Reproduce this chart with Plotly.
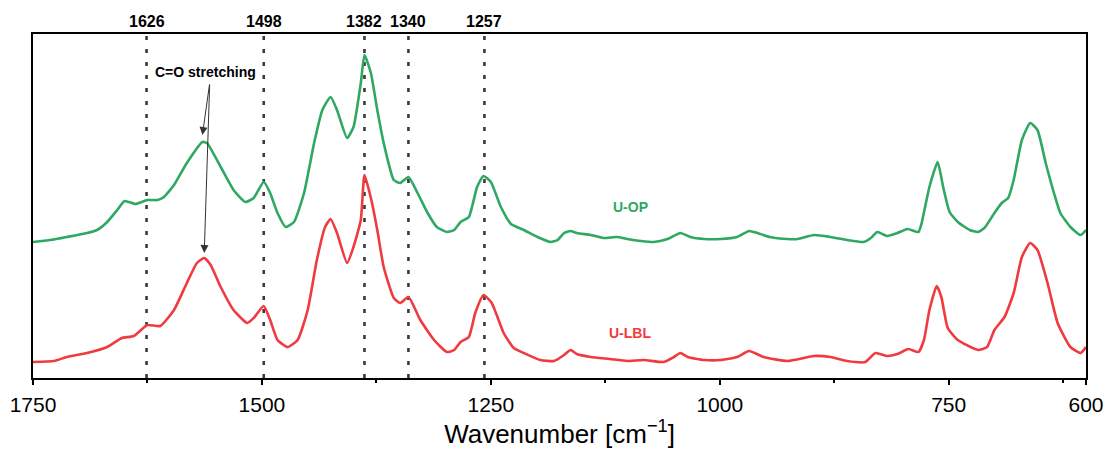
import plotly.graph_objects as go

# ---------------- data ----------------
op_wavenumber = [1750, 1731, 1713, 1691, 1680, 1669, 1658, 1650, 1638, 1625, 1614, 1607, 1596, 1582,
                 1565, 1560, 1545, 1531, 1518, 1509, 1498, 1491, 1483, 1474, 1465, 1454, 1443, 1434,
                 1425, 1418, 1407, 1400, 1392, 1388, 1381, 1374, 1367, 1356, 1349, 1340, 1330, 1319,
                 1309, 1298, 1290, 1283, 1274, 1265, 1258, 1250, 1239, 1228, 1214, 1199, 1185, 1177,
                 1170, 1163, 1156, 1141, 1127, 1112, 1101, 1086, 1072, 1057, 1043, 1032, 1017, 999,
                 981, 968, 959, 945, 926, 915, 897, 879, 861, 843, 835, 828, 817, 806, 795, 783, 780,
                 771, 762, 756, 749, 740, 727, 718, 711, 700, 692, 685, 679, 670, 661, 653, 644, 635,
                 628, 617, 606, 600]
op_absorbance = [1.36, 1.38, 1.41, 1.45, 1.48, 1.56, 1.68, 1.77, 1.74, 1.78, 1.78, 1.81, 1.93, 2.15,
                 2.36, 2.35, 2.11, 1.88, 1.76, 1.80, 1.96, 1.85, 1.65, 1.51, 1.56, 1.85, 2.35, 2.68,
                 2.81, 2.68, 2.40, 2.51, 2.95, 3.23, 3.05, 2.68, 2.35, 1.98, 1.95, 2.01, 1.85, 1.65,
                 1.51, 1.46, 1.48, 1.56, 1.61, 1.91, 2.02, 1.96, 1.71, 1.54, 1.48, 1.41, 1.36, 1.38,
                 1.45, 1.47, 1.45, 1.43, 1.40, 1.41, 1.39, 1.37, 1.36, 1.39, 1.45, 1.41, 1.39, 1.39,
                 1.41, 1.47, 1.45, 1.41, 1.39, 1.39, 1.43, 1.41, 1.38, 1.36, 1.40, 1.46, 1.42, 1.45,
                 1.49, 1.46, 1.53, 1.91, 2.16, 1.91, 1.66, 1.56, 1.48, 1.46, 1.50, 1.65, 1.75, 1.80,
                 1.98, 2.38, 2.55, 2.48, 2.15, 1.85, 1.65, 1.51, 1.43, 1.48]

lbl_wavenumber = [1750, 1727, 1713, 1691, 1669, 1653, 1640, 1625, 1611, 1596, 1582, 1571, 1563, 1556,
                  1545, 1531, 1516, 1509, 1498, 1491, 1483, 1472, 1461, 1450, 1440, 1431, 1425, 1418,
                  1407, 1400, 1392, 1388, 1381, 1374, 1367, 1356, 1349, 1340, 1327, 1312, 1298, 1290,
                  1283, 1274, 1267, 1258, 1249, 1236, 1225, 1214, 1196, 1181, 1170, 1163, 1156, 1141,
                  1120, 1101, 1083, 1061, 1050, 1043, 1035, 1017, 999, 981, 968, 952, 926, 897, 879,
                  861, 841, 830, 817, 806, 794, 783, 777, 771, 763, 758, 751, 740, 718, 708, 700, 689,
                  679, 670, 661, 653, 642, 631, 617, 606, 600]
lbl_absorbance = [0.16, 0.17, 0.21, 0.25, 0.31, 0.40, 0.42, 0.53, 0.52, 0.68, 0.95, 1.15, 1.20, 1.13,
                  0.91, 0.68, 0.55, 0.60, 0.72, 0.58, 0.38, 0.31, 0.38, 0.68, 1.18, 1.51, 1.59, 1.45,
                  1.15, 1.31, 1.58, 2.03, 1.80, 1.48, 1.11, 0.80, 0.75, 0.81, 0.58, 0.38, 0.26, 0.28,
                  0.36, 0.41, 0.65, 0.83, 0.75, 0.45, 0.30, 0.25, 0.18, 0.17, 0.23, 0.28, 0.24, 0.21,
                  0.19, 0.17, 0.18, 0.16, 0.21, 0.25, 0.21, 0.18, 0.18, 0.21, 0.27, 0.21, 0.17, 0.22,
                  0.21, 0.17, 0.16, 0.25, 0.22, 0.24, 0.29, 0.26, 0.38, 0.68, 0.92, 0.81, 0.50, 0.38,
                  0.28, 0.31, 0.48, 0.61, 0.85, 1.21, 1.35, 1.28, 0.95, 0.55, 0.31, 0.25, 0.31]

peak_labels = ["1626", "1498", "1382", "1340", "1257"]
peak_positions = [1626, 1498, 1388, 1340, 1257]

x_tick_values = [1750, 1500, 1250, 1000, 750, 600]
x_tick_labels = ["1750", "1500", "1250", "1000", "750", "600"]
x_minor_ticks = [1625, 1375, 1125, 875, 625]

GREEN = "#2EA862"
RED = "#F03A3E"
FONT = "Liberation Sans, Arial, sans-serif"

fig = go.Figure()
fig.add_trace(go.Scatter(x=op_wavenumber, y=op_absorbance, mode="lines", name="U-OP",
                         line=dict(color=GREEN, width=2.6, shape="spline", smoothing=0.5)))
fig.add_trace(go.Scatter(x=lbl_wavenumber, y=lbl_absorbance, mode="lines", name="U-LBL",
                         line=dict(color=RED, width=2.6, shape="spline", smoothing=0.5)))

shapes = []
annotations = []
for pos, lab in zip(peak_positions, peak_labels):
    shapes.append(dict(type="line", xref="x", yref="paper", x0=pos, x1=pos, y0=0, y1=1,
                       line=dict(color="#3a3a3a", width=2.6, dash="4px,9px"), layer="below"))
    annotations.append(dict(x=pos, y=1, xref="x", yref="paper", yanchor="bottom", text=f"<b>{lab}</b>",
                            showarrow=False, yshift=2, font=dict(family=FONT, size=16, color="black")))

# C=O annotation and its two arrows
annotations.append(dict(x=1562, y=3.06, xref="x", yref="y", text="<b>C=O stretching</b>", showarrow=False,
                        font=dict(family=FONT, size=14, color="black")))
annotations.append(dict(x=1565, y=2.43, xref="x", yref="y", ax=1557, ay=2.95, axref="x", ayref="y",
                        text="", showarrow=True, arrowhead=2, arrowsize=1.6, arrowwidth=1,
                        arrowcolor="#333333"))
annotations.append(dict(x=1563, y=1.25, xref="x", yref="y", ax=1557, ay=2.95, axref="x", ayref="y",
                        text="", showarrow=True, arrowhead=2, arrowsize=1.6, arrowwidth=1,
                        arrowcolor="#333333"))

annotations.append(dict(x=1098, y=1.71, xref="x", yref="y", text="<b>U-OP</b>", showarrow=False,
                        font=dict(family=FONT, size=14, color=GREEN)))
annotations.append(dict(x=1098, y=0.45, xref="x", yref="y", text="<b>U-LBL</b>", showarrow=False,
                        font=dict(family=FONT, size=14, color=RED)))

fig.update_layout(
    width=1104, height=459,
    margin=dict(l=33, r=18, t=34, b=81, autoexpand=False),
    plot_bgcolor="white", paper_bgcolor="white",
    showlegend=False,
    shapes=shapes, annotations=annotations,
    font=dict(family=FONT, color="black"),
)
fig.update_xaxes(
    automargin=False,
    range=[1750, 600], showgrid=False, zeroline=False,
    showline=True, linecolor="black", linewidth=2, mirror=True,
    tickmode="array", tickvals=x_tick_values, ticktext=x_tick_labels,
    ticks="outside", ticklen=5, tickwidth=2, tickcolor="black",
    tickfont=dict(family=FONT, size=21, color="black"),
    ticklabelstandoff=2,
    minor=dict(tickmode="array", tickvals=x_minor_ticks, ticks="outside", ticklen=3,
               tickwidth=1.5, tickcolor="black", showgrid=False),
    title=dict(text="Wavenumber [cm<sup>\u22121</sup>]", font=dict(family=FONT, size=26, color="black"),
               standoff=8),
)
fig.update_yaxes(
    automargin=False,
    range=[0, 3.44], showgrid=False, zeroline=False, showticklabels=False, ticks="",
    showline=True, linecolor="black", linewidth=2, mirror=True,
)

fig.write_html("out.html", config={"displayModeBar": False},
               post_script="document.body.style.margin='0';document.body.style.overflow='hidden';")
